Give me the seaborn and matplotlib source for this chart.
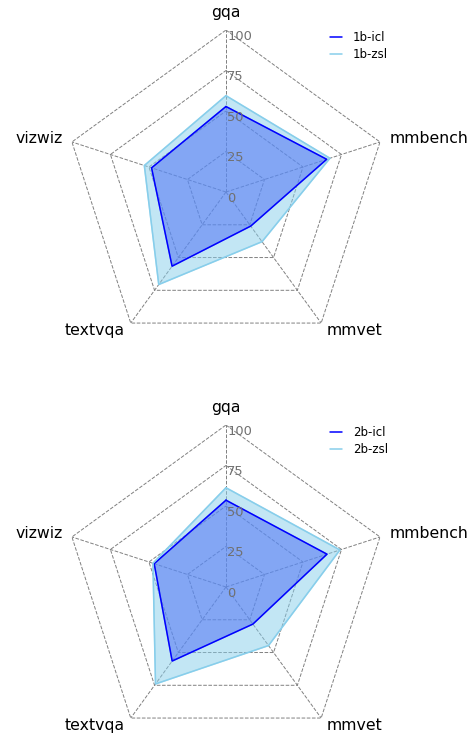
import numpy as np
import matplotlib
matplotlib.use("Agg")
import matplotlib.pyplot as plt
import seaborn as sns

# Benchmarks, clockwise from the top
categories = ["gqa", "mmbench", "mmvet", "textvqa", "vizwiz"]

# Scores
icl_1b = [52.8, 65.4, 26.0, 56.6, 48.3]
zsl_1b = [59.5, 67.5, 37.9, 70.6, 53.0]
icl_2b = [53.6, 65.6, 28.3, 56.5, 46.6]
zsl_2b = [61.3, 74.0, 44.7, 74.0, 47.4]

r_ticks = [0, 25, 50, 75, 100]

panels = [
    ("1b-icl", icl_1b, "1b-zsl", zsl_1b),
    ("2b-icl", icl_2b, "2b-zsl", zsl_2b),
]

sns.set_theme(style="white")
plt.rcParams["font.family"] = ["DejaVu Sans"]
plt.rcParams["text.color"] = "black"


def draw_radar(ax, icl_name, icl_vals, zsl_name, zsl_vals):
    n = len(categories)
    angles = np.linspace(0, 2 * np.pi, n, endpoint=False).tolist()
    angles_closed = angles + angles[:1]

    ax.set_theta_offset(np.pi / 2)
    ax.set_theta_direction(-1)
    ax.set_ylim(0, 100)

    # pentagon grid rings instead of circles
    ax.yaxis.grid(False)
    ax.spines["polar"].set_visible(False)
    for r in r_ticks[1:]:
        ax.plot(angles_closed, [r] * (n + 1), color="gray", ls="--", lw=0.7, zorder=1)
    ax.xaxis.grid(True, color="gray", ls="--", lw=0.7)

    # category labels just outside the outer ring
    ax.set_xticks(angles)
    ax.set_xticklabels([])
    for ang, name in zip(angles, categories):
        s = np.sin(ang)
        if abs(s) < 1e-6:
            ax.text(ang, 111, name, ha="center", va="center", fontsize=11.3, color="black")
        else:
            ax.text(ang, 106, name, ha="left" if s > 0 else "right", va="center",
                    fontsize=11.3, color="black")

    # radial tick labels along the gqa axis
    ax.set_yticks(r_ticks)
    ax.set_yticklabels([])
    for t in r_ticks:
        ax.annotate(str(t), xy=(0, t), xytext=(1, -4.5), textcoords="offset points",
                    ha="left", va="center", fontsize=9.4, color="#707070", zorder=4)

    v = list(icl_vals) + [icl_vals[0]]
    ax.plot(angles_closed, v, color="blue", lw=1.1, label=icl_name, zorder=3)
    ax.fill(angles_closed, v, color="blue", alpha=0.5, zorder=2)

    w = list(zsl_vals) + [zsl_vals[0]]
    ax.plot(angles_closed, w, color="skyblue", lw=1.1, label=zsl_name, zorder=3)
    ax.fill(angles_closed, w, color="skyblue", alpha=0.5, zorder=2)

    leg = ax.legend(loc="upper right", bbox_to_anchor=(1.015, 1.011), frameon=False,
                    fontsize=8.5, handlelength=1.0, handletextpad=0.95,
                    labelspacing=0.3, borderaxespad=0)
    for txt in leg.get_texts():
        txt.set_color("black")


fig = plt.figure(figsize=(4.75, 7.38), dpi=100)
ax1 = fig.add_axes([0.1347, 0.5203, 0.682, 0.439], polar=True)
ax2 = fig.add_axes([0.1347, -0.0149, 0.682, 0.439], polar=True)

for ax, (a_name, a_vals, b_name, b_vals) in zip([ax1, ax2], panels):
    draw_radar(ax, a_name, a_vals, b_name, b_vals)

fig.savefig("out.png", dpi=100)
